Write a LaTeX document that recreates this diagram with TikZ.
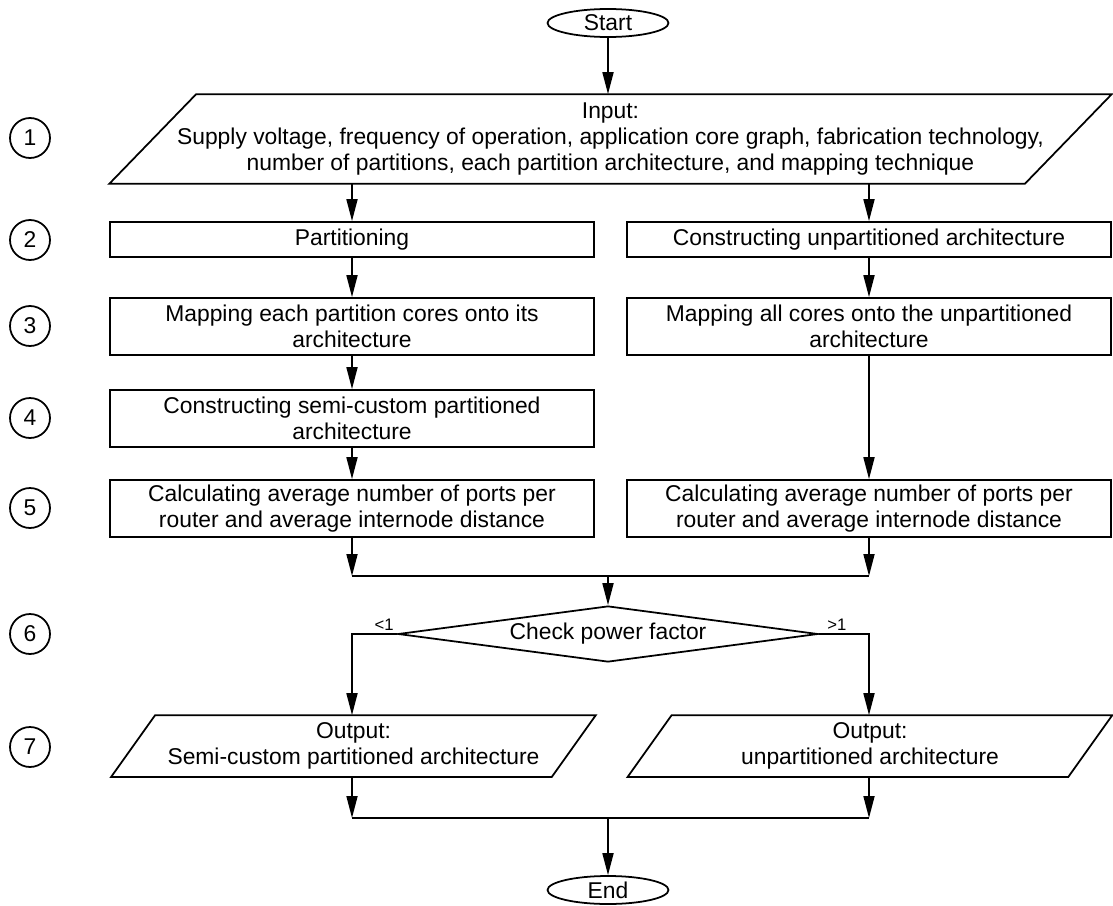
\documentclass[tikz,border=0pt]{standalone}
\usepackage{fontspec}
\setmainfont{Liberation Sans}
\usetikzlibrary{shapes.geometric,arrows.meta}

\begin{document}
\begin{tikzpicture}[x=0.02cm,y=-0.02cm,>={Triangle[length=0.44cm,width=0.22cm]},line width=1pt,
  every node/.style={font=\fontsize{13}{15}\selectfont},
  box/.style={draw,rectangle,align=center,minimum width=9.68cm,inner sep=1pt},
  io/.style={rectangle,align=center,inner sep=0pt},
  term/.style={draw,ellipse,minimum width=2.42cm,minimum height=0.56cm,inner sep=0pt},
  numcirc/.style={draw,circle,minimum size=0.8cm,inner sep=0pt},
  cond/.style={font=\fontsize{9.5}{10}\selectfont,inner sep=1.5pt}]
  \useasboundingbox (0,0) rectangle (1113,906);
  % step numbers
  \foreach \n/\y in {1/138,2/240,3/326,4/418,5/508,6/634,7/747}
    \node[numcirc] (n\n) at (30,\y) {\n};
  % flow
  \node[term] (start) at (608,23) {Start};
  \node[io,minimum width=20.02cm,minimum height=1.76cm] (in) at (610.5,139)
    {Input:\\Supply voltage, frequency of operation, application core graph, fabrication technology,\\number of partitions, each partition architecture, and mapping technique};
  \draw ([xshift=1.74cm]in.north west) -- (in.north east) -- ([xshift=-1.74cm]in.south east) -- (in.south west) -- cycle;
  \node[box,minimum height=0.7cm] (p2l) at (352,239.5) {Partitioning};
  \node[box,minimum height=0.7cm] (p2r) at (869,239.5) {Constructing unpartitioned architecture};
  \node[box,minimum height=1.14cm] (p3l) at (352,326.5) {Mapping each partition cores onto its\\architecture};
  \node[box,minimum height=1.14cm] (p3r) at (869,326.5) {Mapping all cores onto the unpartitioned\\architecture};
  \node[box,minimum height=1.14cm] (p4l) at (352,418.5) {Constructing semi-custom partitioned\\architecture};
  \node[box,minimum height=1.14cm] (p5l) at (352,508.5) {Calculating average number of ports per\\router and average internode distance};
  \node[box,minimum height=1.14cm] (p5r) at (869,508.5) {Calculating average number of ports per\\router and average internode distance};
  \coordinate (j5) at (608,576);
  \node[draw,diamond,shape aspect=7.5,minimum width=8.4cm,minimum height=1.12cm,inner sep=0pt] (pf) at (608,634) {Check power factor};
  \node[io,minimum width=9.66cm,minimum height=1.2cm] (o7l) at (353.5,746) {Output:\\Semi-custom partitioned architecture};
  \draw ([xshift=0.88cm]o7l.north west) -- (o7l.north east) -- ([xshift=-0.88cm]o7l.south east) -- (o7l.south west) -- cycle;
  \node[io,minimum width=9.66cm,minimum height=1.2cm] (o7r) at (870,746) {Output:\\unpartitioned architecture};
  \draw ([xshift=0.88cm]o7r.north west) -- (o7r.north east) -- ([xshift=-0.88cm]o7r.south east) -- (o7r.south west) -- cycle;
  \coordinate (j7) at (608,818);
  \node[term] (end) at (608,890) {End};
  \node[cond,anchor=south east] (lt) at (pf.west) {<1};
  \node[cond,anchor=south west,xshift=0.1cm] (gt) at (pf.east) {>1};
  % connectors
  \draw[->] (start) -- (start |- in.north);
  \draw[->] (p2l |- in.south) -- (p2l);
  \draw[->] (p2r |- in.south) -- (p2r);
  \draw[->] (p2l) -- (p3l);
  \draw[->] (p3l) -- (p4l);
  \draw[->] (p4l) -- (p5l);
  \draw[->] (p2r) -- (p3r);
  \draw[->] (p3r) -- (p5r);
  \draw[->] (p5l) -- (p5l |- j5);
  \draw[->] (p5r) -- (p5r |- j5);
  \draw (p5l |- j5) -- (p5r |- j5);
  \draw[->] (j5) -- (pf);
  \draw[->] (pf.west) -| (p5l |- o7l.north);
  \draw[->] (pf.east) -| (p5r |- o7r.north);
  \draw[->] (p5l |- o7l.south) -- (p5l |- j7);
  \draw[->] (p5r |- o7r.south) -- (p5r |- j7);
  \draw (p5l |- j7) -- (p5r |- j7);
  \draw[->] (j7) -- (end);
\end{tikzpicture}
\end{document}
